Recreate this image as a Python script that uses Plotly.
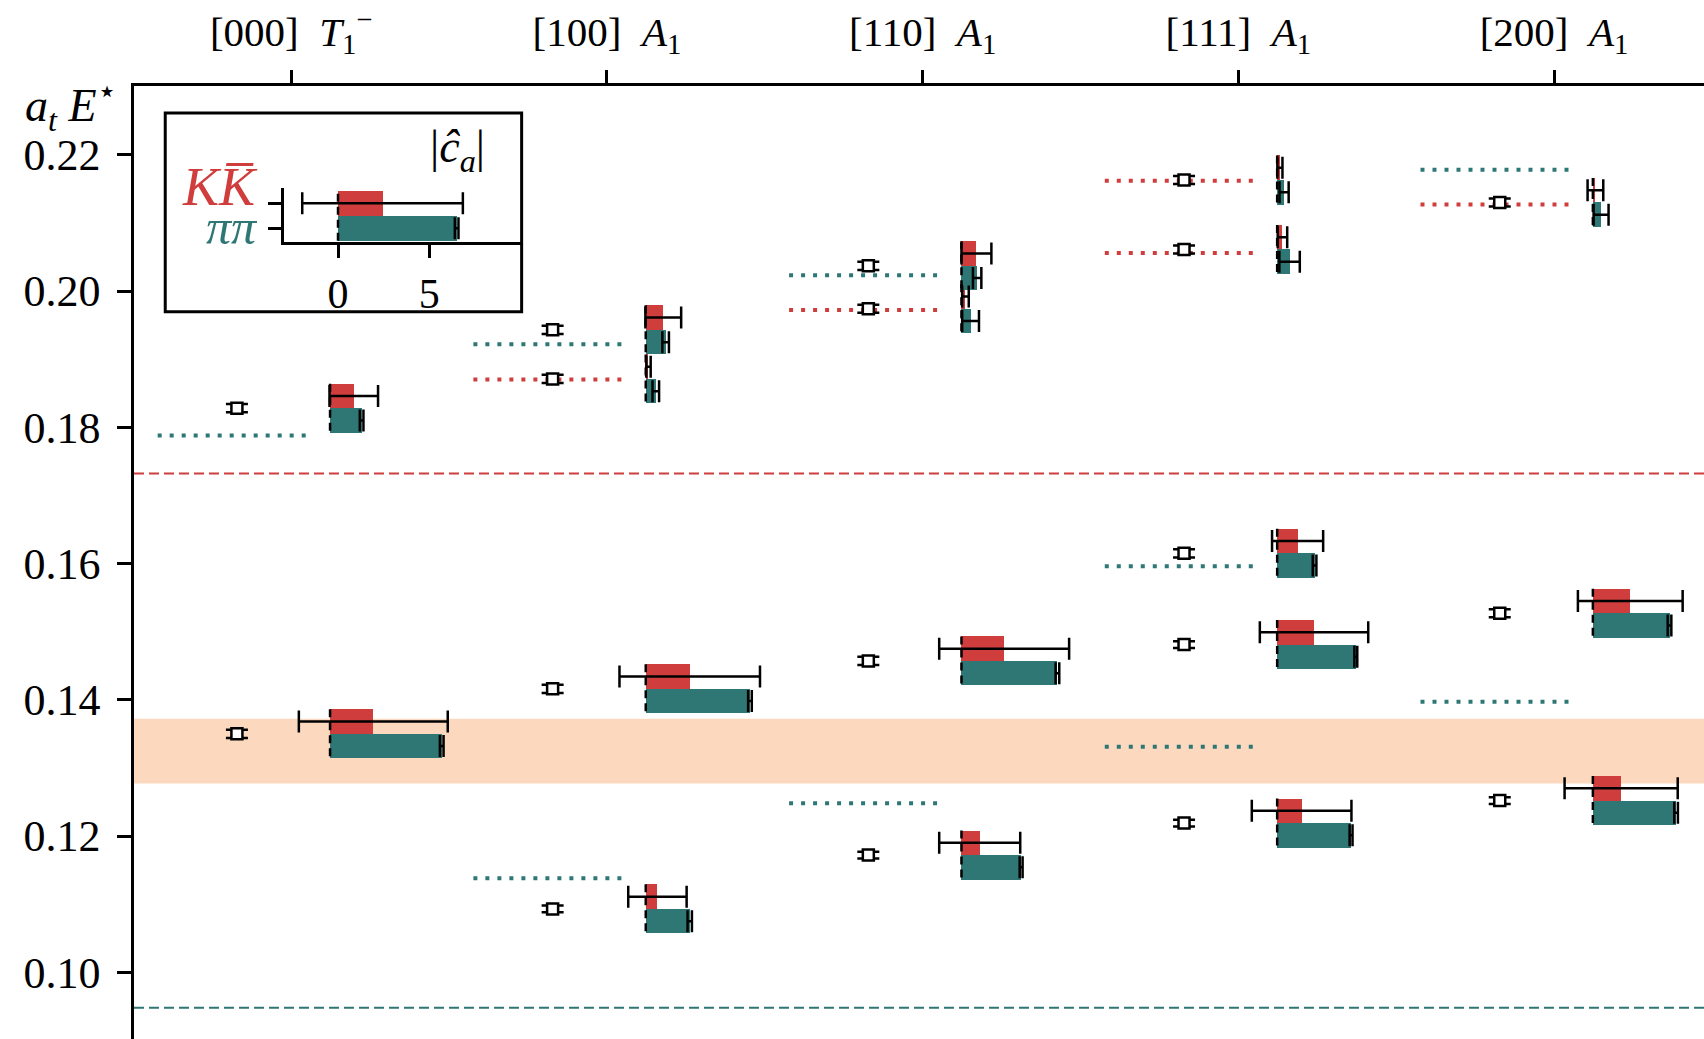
import plotly.graph_objects as go

# ---------------- data ----------------
group_labels = [
    "[000]&nbsp;&nbsp;<i>T</i><sub>1</sub><sup>−</sup>",
    "[100]&nbsp;&nbsp;<i>A</i><sub>1</sub>",
    "[110]&nbsp;&nbsp;<i>A</i><sub>1</sub>",
    "[111]&nbsp;&nbsp;<i>A</i><sub>1</sub>",
    "[200]&nbsp;&nbsp;<i>A</i><sub>1</sub>",
]
group_pos = [0, 1, 2, 3, 4]

# finite-volume levels
level_group = [0, 0, 1, 1, 1, 1, 2, 2, 2, 2, 3, 3, 3, 3, 3, 4, 4, 4]
level_E = [0.1828, 0.1350, 0.1943, 0.1871, 0.1416, 0.1093, 0.2037, 0.1974, 0.1457, 0.1172,
           0.2163, 0.2061, 0.1615, 0.1481, 0.1219, 0.2130, 0.1527, 0.1252]
level_E_err = [0.0006, 0.0006, 0.0006, 0.0006, 0.0006, 0.0005, 0.0006, 0.0006, 0.0006, 0.0005,
               0.0006, 0.0006, 0.0006, 0.0005, 0.0005, 0.0006, 0.0006, 0.0005]
# overlap amplitudes |c_a|
kk_amp = [1.30, 2.37, 0.96, 0.15, 2.41, 0.64, 0.82, 0.22, 2.34, 1.00,
          0.15, 0.29, 1.12, 2.02, 1.34, 0.14, 2.05, 1.55]
kk_err = [1.33, 4.08, 0.98, 0.12, 3.85, 1.60, 0.82, 0.18, 3.56, 2.22,
          0.14, 0.26, 1.40, 2.97, 2.73, 0.43, 2.87, 3.10]
pp_amp = [1.73, 6.12, 1.09, 0.55, 5.71, 2.41, 0.86, 0.50, 5.26, 3.27,
          0.38, 0.68, 2.05, 4.31, 4.05, 0.45, 4.20, 4.56]
pp_err = [0.10, 0.10, 0.18, 0.18, 0.10, 0.12, 0.23, 0.46, 0.10, 0.08,
          0.25, 0.56, 0.10, 0.08, 0.08, 0.41, 0.10, 0.10]

# non-interacting energies
ni_group = [0, 1, 1, 1, 2, 2, 2, 3, 3, 3, 3, 4, 4, 4]
ni_E = [0.1788, 0.1922, 0.1870, 0.1138, 0.2023, 0.1972, 0.1248,
        0.2162, 0.2056, 0.1596, 0.1331, 0.2178, 0.2127, 0.1397]
ni_channel = ["pp", "pp", "kk", "pp", "pp", "kk", "pp",
              "kk", "kk", "pp", "pp", "pp", "kk", "pp"]

threshold_kk = 0.1732
threshold_pp = 0.0948
band_lo, band_hi = 0.1277, 0.1372

y_tick_vals = [0.10, 0.12, 0.14, 0.16, 0.18, 0.20, 0.22]

inset_rows = [0, 1]              # 0: pi pi, 1: K Kbar
inset_amp = [6.50, 2.44]
inset_err = [0.10, 4.40]

# ---------------- style ----------------
RED = "#D03D3D"
TEAL = "#2E7775"
PEACH = "#FCD9BE"
FONT = "Liberation Serif"
BAR_OFF = 0.123      # bar origin offset from group tick
MRK_OFF = -0.172     # energy marker offset
NI_X0, NI_X1 = -0.423, 0.0585
AMP_SCALE = 0.0578   # x-units per unit of |c|
BAR_H = 0.0036

fig = go.Figure()

# non-interacting dotted lines
for ch, col in (("pp", TEAL), ("kk", RED)):
    xs, ys = [], []
    for g, e, c in zip(ni_group, ni_E, ni_channel):
        if c == ch:
            xs += [g + NI_X0, g + NI_X1, None]
            ys += [e, e, None]
    fig.add_trace(go.Scatter(x=xs, y=ys, mode="lines",
                             line=dict(color=col, width=4, dash="4px,8px"),
                             showlegend=False, hoverinfo="skip"))

bases = [g + BAR_OFF for g in level_group]

# bars
fig.add_trace(go.Bar(orientation="h", y=[e + BAR_H / 2 for e in level_E],
                     x=[a * AMP_SCALE for a in kk_amp], base=bases, width=BAR_H,
                     marker=dict(color=RED, line=dict(width=0)), showlegend=False))
fig.add_trace(go.Bar(orientation="h", y=[e - BAR_H / 2 for e in level_E],
                     x=[a * AMP_SCALE for a in pp_amp], base=bases, width=BAR_H,
                     marker=dict(color=TEAL, line=dict(width=0)), showlegend=False))

# dashed zero lines at bar origins
zx, zy = [], []
for b, e in zip(bases, level_E):
    zx += [b, b, None]
    zy += [e + BAR_H, e - BAR_H, None]
fig.add_trace(go.Scatter(x=zx, y=zy, mode="lines",
                         line=dict(color="black", width=2.5, dash="8px,5px"),
                         showlegend=False, hoverinfo="skip"))

# amplitude error bars
for amps, errs, sgn in ((kk_amp, kk_err, 1), (pp_amp, pp_err, -1)):
    fig.add_trace(go.Scatter(
        x=[b + a * AMP_SCALE for b, a in zip(bases, amps)],
        y=[e + sgn * BAR_H / 2 for e in level_E],
        mode="markers", marker=dict(size=1, color="rgba(0,0,0,0)"),
        error_x=dict(type="data", array=[er * AMP_SCALE for er in errs],
                     color="black", thickness=2.5, width=11),
        showlegend=False, hoverinfo="skip"))

# energy levels
fig.add_trace(go.Scatter(
    x=[g + MRK_OFF for g in level_group], y=level_E, mode="markers",
    marker=dict(symbol="square", size=11, color="white",
                line=dict(color="black", width=2.5)),
    error_y=dict(type="data", array=level_E_err, color="black", thickness=2.5, width=11),
    showlegend=False))

# ---------------- inset ----------------
fig.add_trace(go.Bar(orientation="h", y=inset_rows, x=inset_amp, base=[0, 0], width=1,
                     marker=dict(color=[TEAL, RED], line=dict(width=0)),
                     xaxis="x2", yaxis="y2", showlegend=False))
fig.add_trace(go.Scatter(x=[0, 0], y=[-0.5, 1.5], mode="lines",
                         line=dict(color="black", width=2.5, dash="8px,5px"),
                         xaxis="x2", yaxis="y2", showlegend=False, hoverinfo="skip"))
fig.add_trace(go.Scatter(x=inset_amp, y=inset_rows, mode="markers",
                         marker=dict(size=1, color="rgba(0,0,0,0)"),
                         error_x=dict(type="data", array=inset_err, color="black",
                                      thickness=2.5, width=11),
                         xaxis="x2", yaxis="y2", showlegend=False, hoverinfo="skip"))

# ---------------- shapes ----------------
shapes = [
    dict(type="rect", xref="paper", yref="y", x0=0, x1=1, y0=band_lo, y1=band_hi,
         fillcolor=PEACH, line=dict(width=0), layer="below"),
    dict(type="line", xref="paper", yref="y", x0=0, x1=1, y0=threshold_kk, y1=threshold_kk,
         line=dict(color=RED, width=2, dash="10px,5px"), layer="below"),
    dict(type="line", xref="paper", yref="y", x0=0, x1=1, y0=threshold_pp, y1=threshold_pp,
         line=dict(color=TEAL, width=2, dash="10px,5px"), layer="below"),
    dict(type="rect", xref="paper", yref="paper", x0=0.0199, x1=0.2469, y0=0.763, y1=0.9717,
         line=dict(color="black", width=3), fillcolor="rgba(0,0,0,0)", layer="above"),
]

annotations = [
    dict(text="<i>a</i><sub><i>t</i></sub> <i>E</i><sup>⋆</sup>", xref="paper", yref="paper",
         x=-0.071, y=0.980, xanchor="left", yanchor="middle", showarrow=False,
         font=dict(family=FONT, size=46, color="black")),
    dict(text="|<i>ĉ</i><sub><i>a</i></sub>|", xref="paper", yref="paper",
         x=0.206, y=0.933, xanchor="center", yanchor="middle", showarrow=False,
         font=dict(family=FONT, size=46, color="black")),
    dict(text="<i>K</i><i>K̅</i>", xref="paper", yref="paper",
         x=0.080, y=0.894, xanchor="right", yanchor="middle", showarrow=False,
         font=dict(family=FONT, size=54, color=RED)),
    dict(text="<i>ππ</i>", xref="paper", yref="paper",
         x=0.080, y=0.852, xanchor="right", yanchor="middle", showarrow=False,
         font=dict(family=FONT, size=50, color=TEAL)),
]

fig.update_layout(
    width=1704, height=1039,
    margin=dict(l=134, r=0, t=86, b=0, autoexpand=False),
    paper_bgcolor="white", plot_bgcolor="white",
    barmode="overlay", bargap=0,
    font=dict(family=FONT, color="black"),
    shapes=shapes, annotations=annotations,
    xaxis=dict(range=[-0.498, 4.475], side="top", tickvals=group_pos, ticktext=group_labels,
               showline=True, linecolor="black", linewidth=2.5, ticks="outside",
               ticklen=13, tickwidth=2.5, tickcolor="black", showgrid=False, zeroline=False,
               tickfont=dict(family=FONT, size=41), ticklabelstandoff=8, fixedrange=True),
    yaxis=dict(range=[0.0902, 0.2301], tickvals=y_tick_vals,
               ticktext=["%.2f" % v for v in y_tick_vals],
               showline=True, linecolor="black", linewidth=2.5, ticks="outside",
               ticklen=14, tickwidth=2.5, tickcolor="black", showgrid=False, zeroline=False,
               tickfont=dict(family=FONT, size=44), ticklabelstandoff=8),
    xaxis2=dict(domain=[0.0953, 0.2469], anchor="y2", range=[-2.98, 10.06],
                tickvals=[0, 5], ticktext=["0", "5"], showline=True, linecolor="black",
                linewidth=2.5, ticks="outside", ticklen=13, tickwidth=2.5, tickcolor="black",
                showgrid=False, zeroline=False, tickfont=dict(family=FONT, size=42),
                ticklabelstandoff=0),
    yaxis2=dict(domain=[0.836, 0.893], anchor="x2", range=[-0.565, 1.61],
                tickvals=[0, 1], ticktext=["", ""], showline=True, linecolor="black",
                linewidth=2.5, ticks="outside", ticklen=13, tickwidth=2.5, tickcolor="black",
                showgrid=False, zeroline=False),
)

# remove the default page margin / scrollbars so the figure fills the window exactly
fig.write_html("out.html",
               config={"displayModeBar": False},
               post_script="document.body.style.margin='0px';"
                           "document.body.style.overflow='hidden';")
